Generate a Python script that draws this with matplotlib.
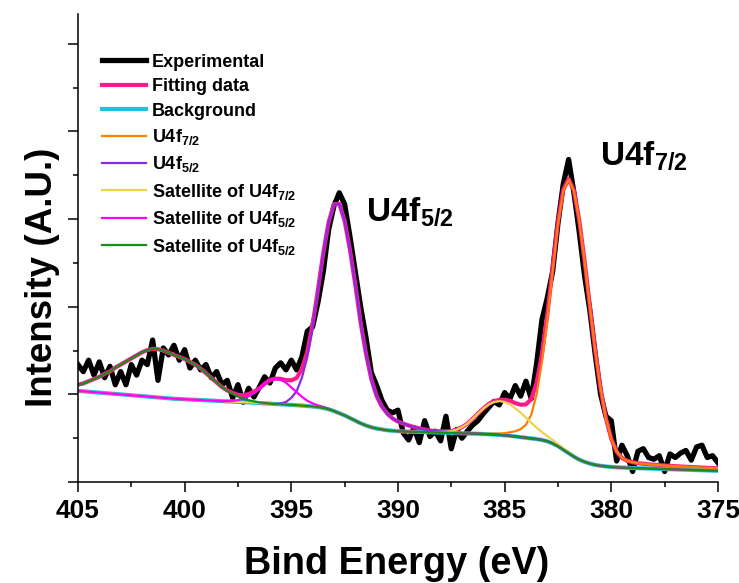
import numpy as np
import matplotlib
matplotlib.use("Agg")
import matplotlib.pyplot as plt
from matplotlib.ticker import MultipleLocator

plt.rcParams["font.family"] = ["Liberation Sans", "DejaVu Sans"]
plt.rcParams["font.weight"] = "bold"
plt.rcParams["mathtext.fontset"] = "custom"
plt.rcParams["mathtext.rm"] = "Liberation Sans:bold"
plt.rcParams["mathtext.it"] = "Liberation Sans:bold"
plt.rcParams["mathtext.bf"] = "Liberation Sans:bold"

# binding energy grid of the U 4f scan (eV), 0.25 eV step
energy = np.arange(405.0, 374.99, -0.25)

experimental = [
    1.34, 1.26, 1.39, 1.22, 1.37, 1.19, 1.32, 1.11, 1.26, 1.11,
    1.34, 1.22, 1.39, 1.34, 1.62, 1.16, 1.53, 1.45, 1.56, 1.39,
    1.51, 1.30, 1.39, 1.28, 1.34, 1.19, 1.26, 1.11, 1.16, 0.96,
    1.11, 0.91, 1.07, 0.97, 1.08, 1.20, 1.13, 1.30, 1.36, 1.28,
    1.39, 1.28, 1.43, 1.72, 1.77, 2.05, 2.40, 2.88, 3.15, 3.30,
    3.17, 2.80, 2.40, 2.00, 1.65, 1.25, 1.10, 0.93, 0.82, 0.79,
    0.82, 0.56, 0.48, 0.62, 0.45, 0.70, 0.52, 0.58, 0.47, 0.75,
    0.38, 0.60, 0.50, 0.58, 0.65, 0.70, 0.78, 0.85, 0.92, 0.88,
    1.02, 0.95, 1.10, 0.98, 1.15, 0.95, 1.35, 1.85, 2.10, 2.40,
    2.95, 3.40, 3.68, 3.30, 2.85, 2.35, 1.95, 1.45, 1.00, 0.75,
    0.70, 0.24, 0.42, 0.30, 0.12, 0.35, 0.38, 0.28, 0.26, 0.30,
    0.12, 0.32, 0.28, 0.33, 0.36, 0.25, 0.40, 0.42, 0.28, 0.30,
    0.22,
]

# Shirley-type background on the same grid
background = [
    1.04, 1.035, 1.03, 1.025, 1.02, 1.015, 1.01, 1.005, 1.00, 0.995,
    0.99, 0.985, 0.98, 0.975, 0.97, 0.965, 0.96, 0.955, 0.95, 0.947,
    0.944, 0.941, 0.938, 0.935, 0.932, 0.929, 0.926, 0.923, 0.92, 0.917,
    0.914, 0.911, 0.908, 0.905, 0.90, 0.897, 0.894, 0.89, 0.887, 0.883,
    0.88, 0.876, 0.872, 0.867, 0.862, 0.855, 0.845, 0.83, 0.81, 0.785,
    0.76, 0.73, 0.70, 0.67, 0.645, 0.625, 0.61, 0.60, 0.59, 0.585,
    0.58, 0.577, 0.575, 0.573, 0.572, 0.57, 0.568, 0.566, 0.564, 0.562,
    0.56, 0.558, 0.556, 0.554, 0.552, 0.55, 0.548, 0.545, 0.542, 0.538,
    0.533, 0.527, 0.52, 0.512, 0.505, 0.497, 0.49, 0.48, 0.465, 0.44,
    0.41, 0.37, 0.33, 0.29, 0.255, 0.23, 0.21, 0.195, 0.185, 0.178,
    0.172, 0.168, 0.165, 0.162, 0.16, 0.158, 0.156, 0.154, 0.152, 0.15,
    0.148, 0.146, 0.144, 0.142, 0.14, 0.138, 0.136, 0.134, 0.132, 0.13,
    0.128,
]

# fitted components: height above background, listed from the given start energy
u4f72_start = 385.75
u4f72 = [0.005, 0.01, 0.015, 0.025, 0.04, 0.06, 0.09, 0.15, 0.27, 0.51,
         0.89, 1.38, 1.96, 2.53, 2.95, 3.12, 3.03, 2.73, 2.29, 1.79,
         1.30, 0.88, 0.55, 0.32, 0.18, 0.11, 0.08, 0.065, 0.057, 0.052,
         0.048, 0.045, 0.043, 0.041, 0.039, 0.037, 0.035, 0.034, 0.033, 0.032,
         0.031, 0.030, 0.029, 0.028]

u4f52_start = 395.5
u4f52 = [0.01, 0.03, 0.08, 0.16, 0.32, 0.56, 0.90, 1.32, 1.76, 2.13,
         2.36, 2.39, 2.22, 1.92, 1.55, 1.15, 0.82, 0.55, 0.37, 0.26,
         0.19, 0.14, 0.11, 0.09, 0.07, 0.055, 0.04, 0.03, 0.02, 0.015,
         0.01, 0.005]

sat72_start = 388.0
sat72 = [0.005, 0.01, 0.02, 0.04, 0.07, 0.11, 0.17, 0.23, 0.29, 0.34,
         0.37, 0.385, 0.38, 0.36, 0.32, 0.28, 0.23, 0.18, 0.13, 0.09,
         0.06, 0.04, 0.025, 0.015, 0.008, 0.004]

sat52a_start = 398.0
sat52a = [0.005, 0.01, 0.02, 0.04, 0.07, 0.11, 0.16, 0.22, 0.27, 0.29,
          0.28, 0.25, 0.20, 0.15, 0.10, 0.06, 0.035, 0.02, 0.01, 0.005]

sat52b_start = 405.0
sat52b = [0.07, 0.09, 0.12, 0.15, 0.18, 0.22, 0.25, 0.30, 0.34, 0.38,
          0.42, 0.46, 0.50, 0.53, 0.55, 0.55, 0.54, 0.52, 0.50, 0.48,
          0.46, 0.43, 0.40, 0.36, 0.31, 0.26, 0.21, 0.16, 0.12, 0.09,
          0.06, 0.04, 0.025, 0.015, 0.008, 0.004]


def on_grid(start, heights):
    out = np.zeros(len(energy))
    i0 = int(round((405.0 - start) / 0.25))
    out[i0:i0 + len(heights)] = heights
    return out


bg = np.array(background)
comps = [on_grid(u4f72_start, u4f72), on_grid(u4f52_start, u4f52),
         on_grid(sat72_start, sat72), on_grid(sat52a_start, sat52a),
         on_grid(sat52b_start, sat52b)]
fit = bg + sum(comps)

fig = plt.figure(figsize=(7.39, 5.83), dpi=100)
ax = fig.add_axes([0.1055, 0.1732, 0.866, 0.8028])

ax.plot(energy, experimental, color="black", lw=3.8, label="Experimental")
ax.plot(energy, fit, color="#FF1A8C", lw=3.0, label="Fitting data")
ax.plot(energy, bg, color="#22C0E0", lw=3.0, label="Background")
comp_styles = [
    ("#FF8000", "U4f$_{7/2}$"),
    ("#8A2BE2", "U4f$_{5/2}$"),
    ("#EBD34A", "Satellite of U4f$_{7/2}$"),
    ("#FF00FF", "Satellite of U4f$_{5/2}$"),
    ("#198C19", "Satellite of U4f$_{5/2}$"),
]
for comp, (col, lab) in zip(comps, comp_styles):
    ax.plot(energy, bg + comp, color=col, lw=1.6, label=lab)

ax.set_xlim(405, 375)
ax.set_ylim(0, 5.34)
ax.xaxis.set_major_locator(MultipleLocator(5))
ax.xaxis.set_minor_locator(MultipleLocator(2.5))
ax.yaxis.set_major_locator(MultipleLocator(1))
ax.yaxis.set_minor_locator(MultipleLocator(0.5))
ax.set_yticklabels([])
ax.tick_params(which="major", direction="out", length=7, width=1.1, labelsize=19, pad=5)
ax.tick_params(which="minor", direction="out", length=3.5, width=1.1)
for s in ("top", "right"):
    ax.spines[s].set_visible(False)
for s in ("left", "bottom"):
    ax.spines[s].set_linewidth(1.1)
for lbl in ax.get_xticklabels():
    lbl.set_fontweight("bold")

ax.set_xlabel("Bind Energy (eV)", fontsize=27.3, fontweight="bold")
ax.xaxis.label.set_va("center")
ax.xaxis.set_label_coords(0.498, -0.175)
ax.set_ylabel("Intensity (A.U.)", fontsize=26.5, fontweight="bold")
ax.yaxis.label.set_va("center")
ax.yaxis.set_label_coords(-0.055, 0.438)

ax.text(391.5, 2.98, "U4f$_{5/2}$", fontsize=24, fontweight="bold", ha="left", va="baseline")
ax.text(380.55, 3.62, "U4f$_{7/2}$", fontsize=24, fontweight="bold", ha="left", va="baseline")

leg = ax.legend(loc="upper left", bbox_to_anchor=(0.0375, 0.915), frameon=False,
                fontsize=13, handlelength=2.45, handletextpad=0.3,
                labelspacing=0.41, borderpad=0, borderaxespad=0)

fig.savefig("out.png", dpi=100)
